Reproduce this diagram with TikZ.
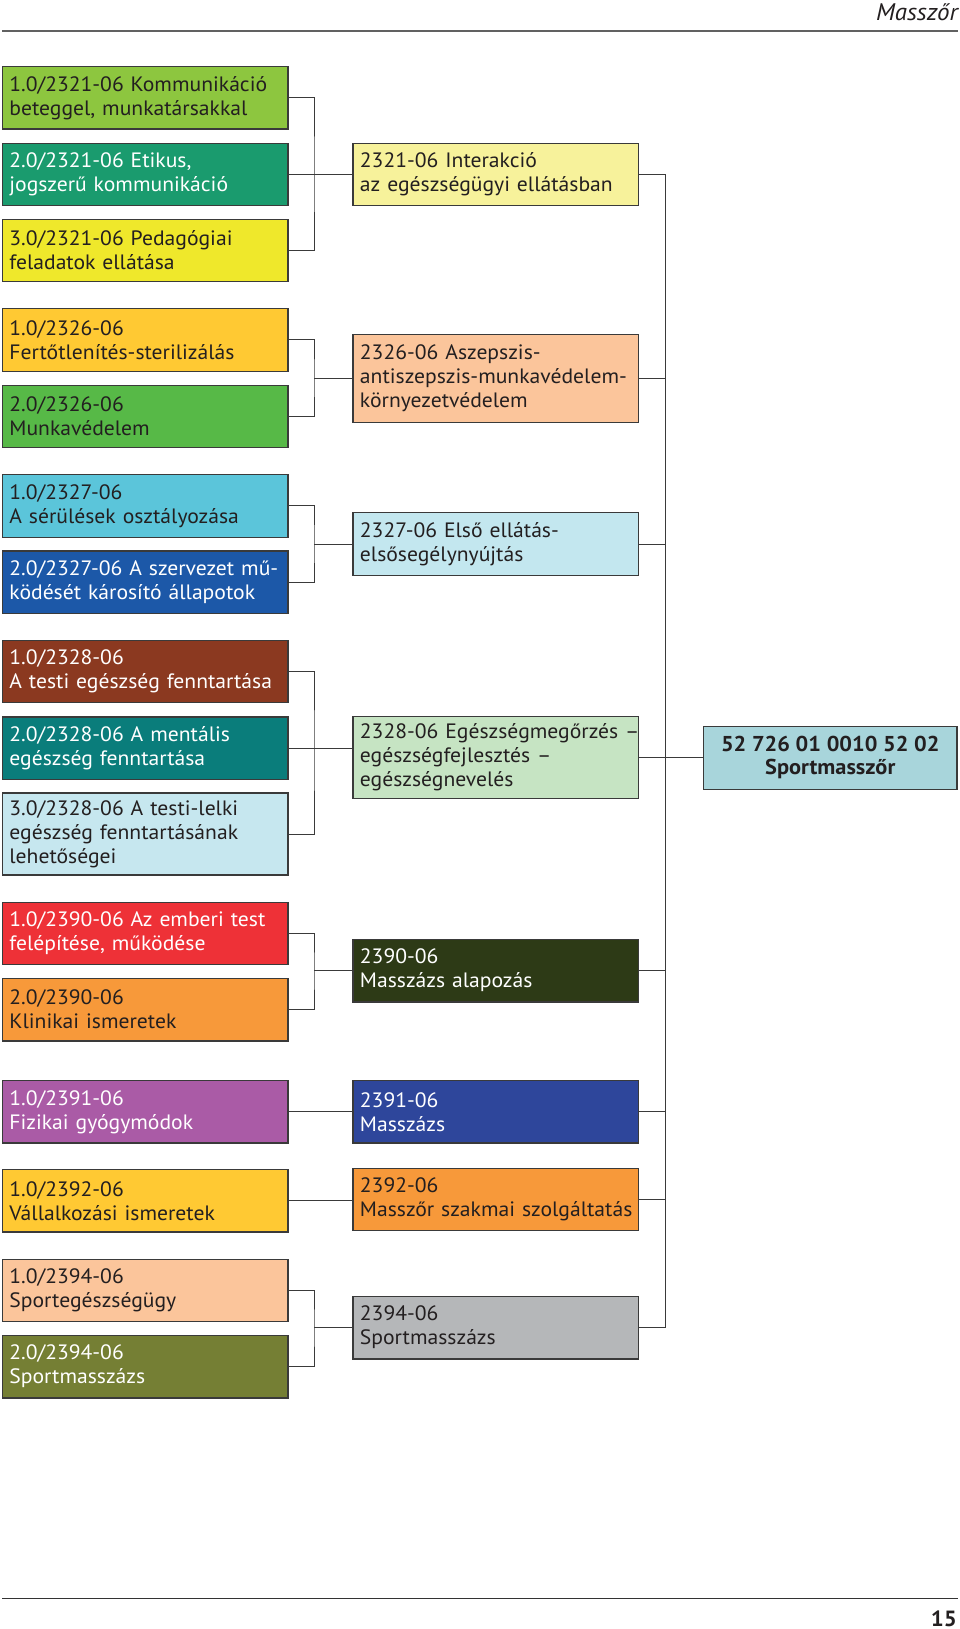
\documentclass[tikz,border=0pt]{standalone}
\usepackage{fontspec}
\setmainfont{PT Sans}[FakeStretch=1.04]
\definecolor{cA1}{HTML}{8DC63F}
\definecolor{cA2}{HTML}{1A9B6E}
\definecolor{cA3}{HTML}{EFE82B}
\definecolor{cAm}{HTML}{F7F29B}
\definecolor{cB1}{HTML}{FFC933}
\definecolor{cB2}{HTML}{57B947}
\definecolor{cBm}{HTML}{FBC59B}
\definecolor{cC1}{HTML}{5BC5DA}
\definecolor{cC2}{HTML}{1C58A8}
\definecolor{cCm}{HTML}{C3E7EF}
\definecolor{cD1}{HTML}{8B3920}
\definecolor{cD2}{HTML}{0A7D7B}
\definecolor{cD3}{HTML}{C6E7EF}
\definecolor{cDm}{HTML}{C6E4C3}
\definecolor{cFin}{HTML}{A8D5DB}
\definecolor{cE1}{HTML}{EE3137}
\definecolor{cE2}{HTML}{F7993A}
\definecolor{cEm}{HTML}{2D3A16}
\definecolor{cF1}{HTML}{AA5BA6}
\definecolor{cFm}{HTML}{2E469B}
\definecolor{cG1}{HTML}{FFC933}
\definecolor{cGm}{HTML}{F7993A}
\definecolor{cH1}{HTML}{FBC59B}
\definecolor{cH2}{HTML}{757F34}
\definecolor{cHm}{HTML}{B5B7B9}
\definecolor{ink}{HTML}{231F20}
\definecolor{edge}{HTML}{3A3A3A}
\begin{document}
\hyphenpenalty=10000
\exhyphenpenalty=10000
\begin{tikzpicture}[x=1pt,y=-1pt,
  box/.style={draw=edge, line width=1.2pt, text=ink, align=left,
    inner xsep=7pt, inner ysep=0pt, minimum width=285.6pt,
    text width=271.6pt,
    font=\fontsize{20.8}{24}\selectfont},
  lbox/.style={box, minimum height=62.5pt},
  mbox/.style={box, minimum height=62.5pt},
  wtext/.style={text=white},
  finbox/.style={draw=edge, line width=1.2pt, text=ink, align=center,
    minimum width=253.5pt, minimum height=63pt, inner sep=0pt,
    fill=cFin, font=\bfseries\fontsize{21.5}{23}\selectfont},
  conn/.style={draw=edge, line width=1pt}]
\useasboundingbox (0,0) rectangle (960,1629);

% header / footer
\draw[draw=black!62, line width=2pt] (2,31) -- (958,31);
\node[anchor=base east, inner sep=0pt, text=ink, font=\itshape\fontsize{24}{26}\selectfont] (hdr) at (958,20.5) {Masszőr};
\draw[draw=black!80, line width=1.5pt] (2,1598.5) -- (958,1598.5);
\node[anchor=base east, inner sep=0pt, text=ink, font=\bfseries\fontsize{22}{24}\selectfont] (pg) at (957,1626) {15};

% group A
\node[lbox, fill=cA1] (A1) at (145.2,97.85) {1.0/2321-06 Kommunikáció\\beteggel, munkatársakkal};
\node[lbox, fill=cA2, wtext] (A2) at (145.2,174.5) {2.0/2321-06 Etikus,\\jogszerű kommunikáció};
\node[lbox, fill=cA3] (A3) at (145.2,250.5) {3.0/2321-06 Pedagógiai\\feladatok ellátása};
\node[mbox, fill=cAm] (Am) at (495.75,174.5) {2321-06 Interakció\\az egészségügyi ellátásban};

% group B
\node[lbox, fill=cB1] (B1) at (145.2,339.85) {1.0/2326-06\\Fertőtlenítés-sterilizálás};
\node[lbox, fill=cB2] (B2) at (145.2,416.35) {2.0/2326-06\\Munkavédelem};
\node[mbox, fill=cBm, minimum height=88pt] (Bm) at (495.75,378.3) {2326-06 Aszepszis-\\\mbox{antiszepszis-munkavédelem-}\\környezetvédelem};

% group C
\node[lbox, fill=cC1] (C1) at (145.2,505.85) {1.0/2327-06\\A sérülések osztályozása};
\node[lbox, fill=cC2, wtext] (C2) at (145.2,582.15) {2.0/2327-06 A szervezet mű-\\ködését károsító állapotok};
\node[mbox, fill=cCm] (Cm) at (495.75,544) {2327-06 Első ellátás-\\elsősegélynyújtás};

% group D
\node[lbox, fill=cD1, wtext] (D1) at (145.2,671.5) {1.0/2328-06\\A testi egészség fenntartása};
\node[lbox, fill=cD2, wtext] (D2) at (145.2,748.15) {2.0/2328-06 A mentális\\egészség fenntartása};
\node[lbox, fill=cD3, minimum height=82pt] (D3) at (145.2,834) {3.0/2328-06 A testi-lelki\\egészség fenntartásának\\lehetőségei};
\node[mbox, fill=cDm, minimum height=82pt] (Dm) at (495.75,757.7) {\mbox{2328-06 Egészségmegőrzés –}\\egészségfejlesztés –\\egészségnevelés};

% final
\node[finbox] (Fin) at (830.25,757.7) {52 726 01 0010 52 02\\Sportmasszőr};

% group E
\node[lbox, fill=cE1, wtext] (E1) at (145.2,933.35) {1.0/2390-06 Az emberi test\\felépítése, működése};
\node[lbox, fill=cE2] (E2) at (145.2,1009.65) {2.0/2390-06\\Klinikai ismeretek};
\node[mbox, fill=cEm, wtext] (Em) at (495.75,970.65) {2390-06\\Masszázs alapozás};

% group F
\node[lbox, fill=cF1, wtext] (F1) at (145.2,1111.8) {1.0/2391-06\\Fizikai gyógymódok};
\node[mbox, fill=cFm, wtext] (Fm) at (495.75,1111.8) {2391-06\\Masszázs};

% group G
\node[lbox, fill=cG1] (G1) at (145.2,1200.8) {1.0/2392-06\\Vállalkozási ismeretek};
\node[mbox, fill=cGm] (Gm) at (495.75,1199.4) {2392-06\\\mbox{Masszőr szakmai szolgáltatás}};

% group H
\node[lbox, fill=cH1] (H1) at (145.2,1290.35) {1.0/2394-06\\Sportegészségügy};
\node[lbox, fill=cH2, wtext] (H2) at (145.2,1366.65) {2.0/2394-06\\Sportmasszázs};
\node[mbox, fill=cHm] (Hm) at (495.75,1327.65) {2394-06\\Sportmasszázs};

% junction coordinates
\coordinate (jA) at (314,174.5);
\coordinate (jB) at (314,378.3);
\coordinate (jC) at (314,544);
\coordinate (jD) at (314,748.15);
\coordinate (jE) at (314,970.65);
\coordinate (jH) at (314,1327.65);
\coordinate (tBot) at (665,1327.65);

% brackets
\draw[conn] (A1.east) -| (jA) |- (A3.east);
\draw[conn] (A2.east) -- (Am.west);
\draw[conn] (B1.east) -| (jB) |- (B2.east);
\draw[conn] (jB) -- (Bm.west);
\draw[conn] (C1.east) -| (jC) |- (C2.east);
\draw[conn] (jC) -- (Cm.west);
\draw[conn] (D1.east) -| (jD) |- (D3.east);
\draw[conn] (D2.east) -- (D2.east -| Dm.west);
\draw[conn] (E1.east) -| (jE) |- (E2.east);
\draw[conn] (jE) -- (Em.west);
\draw[conn] (F1.east) -- (Fm.west);
\draw[conn] (G1.east) -- (G1.east -| Gm.west);
\draw[conn] (H1.east) -| (jH) |- (H2.east);
\draw[conn] (jH) -- (Hm.west);

% trunk
\draw[conn] (Am.east) -| (tBot) -- (Hm.east);
\draw[conn] (Bm.east) -- (Bm.east -| tBot);
\draw[conn] (Cm.east) -- (Cm.east -| tBot);
\draw[conn] (Dm.east) -- (Fin.west);
\draw[conn] (Em.east) -- (Em.east -| tBot);
\draw[conn] (Fm.east) -- (Fm.east -| tBot);
\draw[conn] (Gm.east) -- (Gm.east -| tBot);
\end{tikzpicture}
\end{document}
